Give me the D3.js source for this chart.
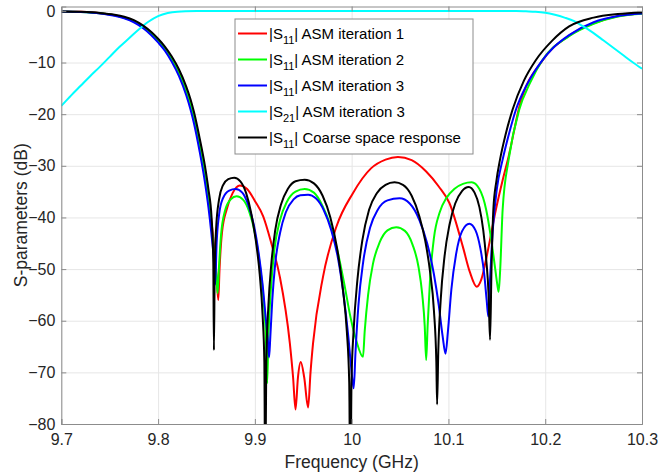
<!DOCTYPE html>
<html>
<head>
<meta charset="utf-8">
<script src="https://cdn.jsdelivr.net/npm/d3@7"></script>
<style>
  body { margin: 0; background: #fff; }
  svg { font-family: "Liberation Sans", Arial, sans-serif; }
  .grid line { stroke: #e6e6e6; }
  .grid path { display: none; }
  .axis path, .axis line { stroke: #8c8c8c; }
  .axis text { fill: #262626; font-size: 16px; }
</style>
</head>
<body>
<div id="chart-area"><svg></svg></div>
<script>
const chartSize = { width: 670, height: 474 };
const margin = { left: 61.3, right: 28, top: 6.5, bottom: 50 };
const width = chartSize.width - margin.left - margin.right;
const height = chartSize.height - margin.top - margin.bottom;

const xTicks = [9.7, 9.8, 9.9, 10, 10.1, 10.2, 10.3];
const yTicks = [0, -10, -20, -30, -40, -50, -60, -70, -80];

// [frequency GHz, dB]
const s11Iter1 = [[9.70,-0.11],[9.72,-0.19],[9.74,-0.44],[9.755,-0.83],[9.765,-1.27],[9.775,-1.95],[9.785,-3.1],[9.793,-4.35],[9.80,-5.7],[9.807,-7.2],[9.814,-9.2],[9.8215,-11.8],[9.829,-15.2],[9.8335,-17.8],[9.8371,-20.4],[9.843,-25.6],[9.8485,-31.1],[9.852,-35.5],[9.855,-40.5],[9.858,-46],[9.8605,-51.5],[9.8622,-56],[9.8635,-50],[9.866,-43],[9.8708,-38.5],[9.877,-35.3],[9.8845,-33.8],[9.892,-34.5],[9.900,-36.8],[9.9086,-39.8],[9.917,-45],[9.9258,-51.5],[9.9361,-64.3],[9.9395,-71],[9.942,-77.2],[9.9445,-71],[9.9474,-68.0],[9.951,-71],[9.955,-76.8],[9.9575,-70],[9.9601,-64.4],[9.9704,-51.5],[9.9842,-41.8],[10.0013,-35.3],[10.020,-30.5],[10.035,-28.8],[10.0478,-28.3],[10.062,-28.9],[10.077,-31.1],[10.090,-34],[10.101,-37.2],[10.1148,-45.6],[10.122,-50.5],[10.1292,-53.4],[10.134,-52],[10.1388,-48.2],[10.149,-38.5],[10.156,-32.8],[10.1622,-28.2],[10.1732,-18.6],[10.1972,-9.6],[10.2247,-4.8],[10.25,-2.4],[10.275,-1.05],[10.30,-0.52]];

const s11Iter2 = [[9.70,-0.11],[9.72,-0.2],[9.74,-0.46],[9.755,-0.87],[9.765,-1.33],[9.775,-2.05],[9.785,-3.2],[9.793,-4.45],[9.80,-5.8],[9.807,-7.35],[9.814,-9.35],[9.8215,-12.0],[9.829,-15.5],[9.8335,-18.2],[9.8371,-20.8],[9.843,-26.1],[9.8485,-31.8],[9.852,-36.5],[9.855,-41.5],[9.858,-47],[9.8605,-52],[9.8615,-54.7],[9.8628,-50],[9.865,-43.5],[9.869,-38.8],[9.875,-36.5],[9.8811,-35.9],[9.888,-36.6],[9.894,-38.8],[9.900,-43],[9.905,-49],[9.909,-56],[9.9115,-64],[9.9127,-72.1],[9.914,-63],[9.9165,-54],[9.920,-46.5],[9.926,-40.5],[9.933,-37],[9.942,-35],[9.9515,-34.5],[9.961,-35.2],[9.970,-37.8],[9.978,-41.5],[9.986,-47],[9.993,-53.5],[9.999,-59.5],[10.005,-64],[10.0117,-67],[10.0135,-62],[10.017,-55],[10.022,-49],[10.029,-44.8],[10.037,-42.5],[10.0461,-41.9],[10.055,-42.6],[10.063,-45.3],[10.069,-49.5],[10.073,-55],[10.0755,-61],[10.077,-67.6],[10.0785,-61],[10.081,-52],[10.085,-44],[10.091,-39],[10.098,-36.2],[10.106,-34.5],[10.115,-33.5],[10.124,-33.2],[10.132,-34.5],[10.139,-38.5],[10.144,-44],[10.148,-49.5],[10.1505,-53],[10.1519,-54.4],[10.1535,-50],[10.156,-38.5],[10.1622,-28.8],[10.1732,-19.1],[10.1842,-14],[10.1972,-9.5],[10.2247,-4.9],[10.25,-2.5],[10.275,-1.1],[10.30,-0.55]];

const s11Iter3 = [[9.70,-0.12],[9.72,-0.22],[9.74,-0.5],[9.755,-0.95],[9.765,-1.45],[9.775,-2.2],[9.785,-3.4],[9.793,-4.7],[9.80,-6.1],[9.807,-7.7],[9.814,-9.8],[9.8215,-12.6],[9.829,-16.3],[9.8335,-19.1],[9.8371,-21.8],[9.843,-27.3],[9.8485,-33.3],[9.852,-38],[9.855,-43],[9.8575,-48],[9.859,-53],[9.8605,-45],[9.863,-39.5],[9.867,-36.3],[9.8735,-34.8],[9.8801,-34.5],[9.887,-35.2],[9.893,-37.5],[9.899,-41.5],[9.904,-47],[9.908,-53],[9.911,-59],[9.9135,-64],[9.9147,-67.1],[9.916,-63],[9.918,-56],[9.921,-49],[9.926,-43],[9.932,-39],[9.940,-36.5],[9.947,-35.7],[9.955,-35.6],[9.963,-36.3],[9.971,-38.5],[9.979,-42.5],[9.986,-48],[9.992,-55.5],[9.9965,-63],[9.9995,-69],[10.0021,-73.1],[10.004,-66],[10.007,-57],[10.012,-48.5],[10.019,-42],[10.027,-38.5],[10.037,-36.7],[10.0495,-36.3],[10.060,-37.3],[10.070,-40.5],[10.078,-45],[10.085,-51],[10.090,-57],[10.094,-63],[10.097,-66.4],[10.0995,-62],[10.103,-54],[10.108,-47],[10.114,-42.7],[10.1216,-41.2],[10.128,-42.5],[10.133,-46],[10.137,-51],[10.1395,-56],[10.1412,-59.2],[10.143,-52],[10.146,-42],[10.150,-34.5],[10.156,-28.8],[10.163,-23.5],[10.1698,-19.1],[10.181,-14.3],[10.1945,-10.2],[10.208,-7.2],[10.2247,-4.7],[10.25,-2.2],[10.275,-1.0],[10.30,-0.5]];

const s21Iter3 = [[9.70,-18.4],[9.71,-16.4],[9.72,-14.5],[9.73,-12.6],[9.74,-10.8],[9.75,-8.9],[9.76,-7.0],[9.77,-5.3],[9.78,-3.6],[9.79,-2.1],[9.80,-1.0],[9.81,-0.4],[9.82,-0.15],[9.84,-0.03],[9.86,0],[10.16,0],[10.17,-0.02],[10.18,-0.08],[10.19,-0.15],[10.20,-0.35],[10.21,-0.75],[10.22,-1.3],[10.23,-2.0],[10.24,-3.1],[10.25,-4.3],[10.26,-5.7],[10.27,-7.1],[10.28,-8.5],[10.29,-9.9],[10.30,-11.2]];

const s11Coarse = [[9.70,-0.10],[9.72,-0.18],[9.74,-0.4],[9.755,-0.75],[9.765,-1.15],[9.775,-1.8],[9.785,-2.9],[9.793,-4.1],[9.80,-5.4],[9.807,-6.9],[9.814,-8.8],[9.8215,-11.3],[9.829,-14.6],[9.8335,-17.1],[9.8371,-19.6],[9.843,-24.7],[9.8485,-30.1],[9.852,-34.5],[9.8553,-40.1],[9.857,-48],[9.8577,-65.7],[9.8585,-50],[9.860,-42],[9.863,-36.5],[9.867,-33.8],[9.8725,-32.6],[9.8787,-32.3],[9.885,-33.0],[9.891,-35.3],[9.896,-39],[9.901,-44.5],[9.905,-51],[9.908,-59],[9.9098,-68],[9.9107,-95],[9.9118,-68],[9.914,-57],[9.917,-49],[9.921,-42.5],[9.927,-37.5],[9.934,-34.5],[9.942,-33.0],[9.9515,-32.7],[9.961,-33.4],[9.970,-35.8],[9.978,-40],[9.985,-46],[9.991,-54],[9.995,-62],[9.9975,-72],[9.9986,-95],[9.9998,-72],[10.002,-62],[10.006,-52],[10.011,-44.5],[10.018,-38.5],[10.026,-35.3],[10.035,-33.7],[10.0443,-33.2],[10.053,-33.7],[10.062,-35.8],[10.070,-39.8],[10.076,-44.5],[10.081,-50.5],[10.085,-58],[10.0875,-68],[10.0883,-76.2],[10.0895,-66],[10.092,-56],[10.096,-47.5],[10.101,-41.5],[10.107,-37.3],[10.114,-34.9],[10.121,-34.1],[10.127,-35.2],[10.132,-38],[10.136,-42.5],[10.139,-48],[10.1415,-55],[10.143,-63.7],[10.1445,-50],[10.1464,-38.5],[10.1495,-33],[10.1533,-28.8],[10.159,-24],[10.1663,-19.1],[10.178,-13.5],[10.1904,-9.5],[10.207,-5.8],[10.2247,-3.0],[10.25,-1.3],[10.275,-0.6],[10.30,-0.3]];

const series = [
    { name: ['S', '11', 'ASM iteration 1'], color: '#ff0000', data: s11Iter1 },
    { name: ['S', '11', 'ASM iteration 2'], color: '#00ff00', data: s11Iter2 },
    { name: ['S', '11', 'ASM iteration 3'], color: '#0000ff', data: s11Iter3 },
    { name: ['S', '21', 'ASM iteration 3'], color: '#00ffff', data: s21Iter3 },
    { name: ['S', '11', 'Coarse space response'], color: '#000000', data: s11Coarse }
];

const drawChart = () => {
    const svg = d3.select('#chart-area svg')
        .attr('width', chartSize.width)
        .attr('height', chartSize.height);

    const g = svg.append('g')
        .attr('transform', `translate(${margin.left},${margin.top})`);

    const x = d3.scaleLinear().domain([9.7, 10.3]).range([0, width]);
    const y = d3.scaleLinear().domain([-80, 0.85]).range([height, 0]);

    // grid
    g.append('g')
        .attr('class', 'grid')
        .attr('transform', `translate(0,${height})`)
        .call(d3.axisBottom(x).tickValues(xTicks).tickSize(-height).tickFormat(''));
    g.append('g')
        .attr('class', 'grid')
        .call(d3.axisLeft(y).tickValues(yTicks).tickSize(-width).tickFormat(''));

    g.append('clipPath').attr('id', 'plot-clip')
        .append('rect').attr('width', width).attr('height', height);

    const line = d3.line()
        .x(d => x(d[0]))
        .y(d => y(d[1]))
        .curve(d3.curveMonotoneX);

    g.append('g')
        .attr('clip-path', 'url(#plot-clip)')
        .selectAll('.curve')
        .data(series)
        .enter()
        .append('path')
        .attr('class', 'curve')
        .attr('fill', 'none')
        .attr('stroke', s => s.color)
        .attr('stroke-width', 2)
        .attr('stroke-linejoin', 'round')
        .attr('d', s => line(s.data));

    // axes box with inward ticks
    g.append('g')
        .attr('class', 'axis')
        .attr('transform', `translate(0,${height})`)
        .call(d3.axisBottom(x).tickValues(xTicks).tickSize(-5).tickPadding(10).tickFormat(d3.format('')));
    g.append('g')
        .attr('class', 'axis')
        .call(d3.axisLeft(y).tickValues(yTicks).tickSize(-5).tickPadding(6));
    g.append('g')
        .attr('class', 'axis')
        .call(d3.axisTop(x).tickValues(xTicks).tickSize(-5).tickFormat(''));
    g.append('g')
        .attr('class', 'axis')
        .attr('transform', `translate(${width},0)`)
        .call(d3.axisRight(y).tickValues(yTicks).tickSize(-5).tickFormat(''));

    svg.append('text')
        .attr('x', margin.left + width / 2)
        .attr('y', 468)
        .attr('text-anchor', 'middle')
        .attr('fill', '#262626')
        .style('font-size', '17.5px')
        .text('Frequency (GHz)');

    svg.append('text')
        .attr('transform', `translate(27,${margin.top + height / 2}) rotate(-90)`)
        .attr('text-anchor', 'middle')
        .attr('fill', '#262626')
        .style('font-size', '17.5px')
        .text('S-parameters (dB)');

    // legend
    const legend = svg.append('g').attr('transform', 'translate(235,19)');
    legend.append('rect')
        .attr('width', 238)
        .attr('height', 135)
        .attr('fill', '#fff')
        .attr('stroke', '#8c8c8c');

    const row = legend.selectAll('.row')
        .data(series)
        .enter()
        .append('g')
        .attr('class', 'row')
        .attr('transform', (s, i) => `translate(0,${14.5 + i * 26})`);

    row.append('line')
        .attr('x1', 3).attr('x2', 32)
        .attr('stroke', s => s.color)
        .attr('stroke-width', 2);

    const label = row.append('text')
        .attr('x', 34)
        .attr('y', 5)
        .attr('fill', '#000')
        .style('font-size', '15px');
    label.append('tspan').text(s => '|' + s.name[0]);
    label.append('tspan').attr('dy', 5).style('font-size', '11px').text(s => s.name[1]);
    label.append('tspan').attr('dy', -5).text(s => '| ' + s.name[2]);
};

window.onload = drawChart;
</script>
</body>
</html>
